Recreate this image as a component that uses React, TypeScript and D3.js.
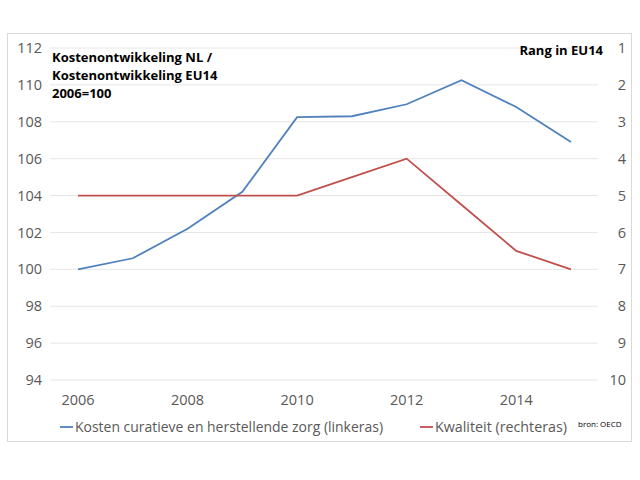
import React from 'react';
import * as d3 from 'd3';

// jaren en reeksen
const years = [2006, 2007, 2008, 2009, 2010, 2011, 2012, 2013, 2014, 2015];
const kosten = [100, 100.6, 102.2, 104.2, 108.25, 108.3, 108.95, 110.25, 108.8, 106.9];
const kwaliteit = [5, 5, 5, 5, 5, 4.5, 4, 5.25, 6.5, 7];

const leftTicks = [94, 96, 98, 100, 102, 104, 106, 108, 110, 112];
const rightTicks = [1, 2, 3, 4, 5, 6, 7, 8, 9, 10];
const yearTicks = [2006, 2008, 2010, 2012, 2014];

const titleLines = ['Kostenontwikkeling NL /', 'Kostenontwikkeling EU14', '2006=100'];
const rightTitle = 'Rang in EU14';
const legendItems = [
  { label: 'Kosten curatieve en herstellende zorg (linkeras)', color: '#4F81BD' },
  { label: 'Kwaliteit (rechteras)', color: '#C0504D' },
];

const FONT = '"Open Sans", "Noto Sans", sans-serif';

const App: React.FC = () => {
  const width = 640;
  const height = 480;
  const plot = { left: 50, right: 598, top: 48, bottom: 380 };

  const x = d3.scaleLinear().domain([2006, 2015]).range([78, 571]);
  const yL = d3.scaleLinear().domain([94, 112]).range([plot.bottom, plot.top]);
  const yR = d3.scaleLinear().domain([10, 1]).range([plot.bottom, plot.top]);

  const blueLine = d3.line<number>()
    .x((_, i) => x(years[i]))
    .y(d => yL(d))(kosten) || '';
  const redLine = d3.line<number>()
    .x((_, i) => x(years[i]))
    .y(d => yR(d))(kwaliteit) || '';

  return (
    <svg width={width} height={height} style={{ display: 'block', position: 'absolute', left: 0, top: 0 }}>
      <rect x={0} y={0} width={width} height={height} fill="#fff" />
      <rect x={7.5} y={33.5} width={624} height={408} fill="#fff" stroke="#D9D9D9" strokeWidth={1} />

      {/* rasterlijnen */}
      {leftTicks.map(t => (
        <line key={t} x1={plot.left} x2={plot.right} y1={yL(t)} y2={yL(t)} stroke="#E6E6E6" strokeWidth={1} />
      ))}

      {/* linkeras */}
      {leftTicks.map(t => (
        <text key={t} x={42} y={yL(t)} dy="0.35em" textAnchor="end" fontFamily={FONT} fontSize={14.5} fill="#595959">{t}</text>
      ))}
      {/* rechteras */}
      {rightTicks.map(t => (
        <text key={t} x={626} y={yR(t)} dy="0.35em" textAnchor="end" fontFamily={FONT} fontSize={14.5} fill="#595959">{t}</text>
      ))}
      {/* x-as */}
      {yearTicks.map(t => (
        <text key={t} x={x(t)} y={400} dy="0.35em" textAnchor="middle" fontFamily={FONT} fontSize={14.5} fill="#595959">{t}</text>
      ))}

      <path d={blueLine} fill="none" stroke="#4F81BD" strokeWidth={1.8} />
      <path d={redLine} fill="none" stroke="#C0504D" strokeWidth={1.8} />

      {/* titels */}
      {titleLines.map((l, i) => (
        <text key={i} x={52} y={57 + i * 18} dy="0.35em" fontFamily={FONT} fontWeight="bold" fontSize={13} fill="#000">{l}</text>
      ))}
      <text x={603} y={50} dy="0.35em" textAnchor="end" fontFamily={FONT} fontWeight="bold" fontSize={13} fill="#000">{rightTitle}</text>

      {/* legenda */}
      <line x1={60} x2={73} y1={427} y2={427} stroke={legendItems[0].color} strokeWidth={1.8} />
      <text x={75} y={427} dy="0.35em" fontFamily={FONT} fontSize={14} fill="#595959" textLength={308} lengthAdjust="spacingAndGlyphs">{legendItems[0].label}</text>
      <line x1={420} x2={433} y1={427} y2={427} stroke={legendItems[1].color} strokeWidth={1.8} />
      <text x={435} y={427} dy="0.35em" fontFamily={FONT} fontSize={14} fill="#595959" textLength={132} lengthAdjust="spacingAndGlyphs">{legendItems[1].label}</text>
      <text x={578} y={424} dy="0.35em" fontFamily={FONT} fontSize={8} fill="#000">bron: OECD</text>
    </svg>
  );
};

export default App;
